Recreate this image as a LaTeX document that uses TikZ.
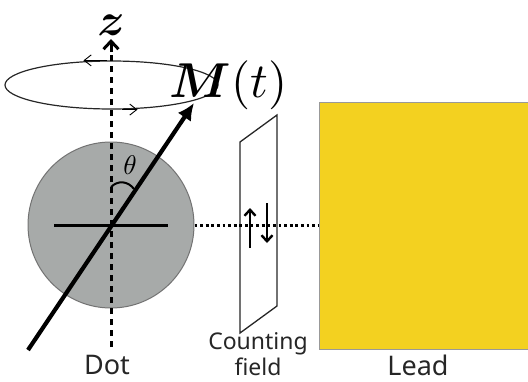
\documentclass[tikz,border=0pt]{standalone}
\usepackage{fontspec}
\usepackage{amsmath,bm}
\setsansfont{Noto Sans}
\usetikzlibrary{arrows.meta, positioning, shapes.geometric}
\definecolor{dotgray}{HTML}{A7AAA9}
\definecolor{leadyellow}{HTML}{F3D120}
\tikzset{label/.style={font=\sffamily\fontsize{27}{29}\selectfont,text=black!85,inner sep=0pt},cfield/.style={font=\sffamily\fontsize{23}{26}\selectfont,text=black!85,align=center,inner sep=0pt},thin line/.style={draw=black!85,line width=1.3pt},spin/.style={line width=2.4pt,-{Straight Barb[length=6pt,width=11pt]}},orbit/.style={-{Straight Barb[length=7pt,width=11pt]},line width=.9pt}}
\begin{document}
\begin{tikzpicture}[x=1pt,y=-1pt]
\useasboundingbox (0,0) rectangle (528,381);
\node[circle,draw=black!55,line width=1pt,fill=dotgray,minimum size=166pt,inner sep=0pt] (dot) at (111,225) {};
\node[rectangle,draw=black!40,line width=1pt,fill=leadyellow,minimum width=212pt,minimum height=247pt,inner sep=0pt,anchor=north west] (lead) at (319,102) {};
\node[ellipse,draw=black!85,line width=1.2pt,minimum width=213pt,minimum height=48pt,inner sep=0pt] (orbit) at (111.5,85) {};
\coordinate (zbase) at (111,347);
\coordinate (zmid) at (111,50);
\coordinate (ztop) at (111,39);
\coordinate (mbase) at (28,350);
\coordinate (mtip) at (194,103);
\coordinate (hl) at (54,225);
\coordinate (hr) at (168,225);
\coordinate (pa) at (240,142);
\coordinate (pb) at (277,115);
\coordinate (pc) at (277,306);
\coordinate (pd) at (240,333);
\coordinate (upa) at (250,248);
\coordinate (upb) at (250,208);
\coordinate (downa) at (267,203);
\coordinate (downb) at (267,243);
\draw[line width=3pt,dash pattern=on 6pt off 5pt] (zbase) -- (zmid);
\draw[line width=3pt,-{Straight Barb[length=8pt,width=15pt]}] (111,52) -- (ztop);
\draw[orbit] (orbit.north) ++(-5,0) -- ++(-23,0);
\draw[orbit] (orbit.south) ++(10,0) -- ++(16,0);
\draw[line width=3pt] (hl) -- (hr);
\draw[line width=2pt] (111,187) .. controls (118,180) and (128,181) .. (134,189);
\draw[line width=4.2pt,-{Latex[length=17pt,width=16pt]}] (mbase) -- (mtip);
\draw[thin line] (pa) -- (pb) -- (pc) -- (pd) -- cycle;
\draw[line width=3pt,dash pattern=on 2.8pt off 2.8pt] (dot.east) -- (lead.west |- dot);
\draw[spin] (upa) -- (upb);
\draw[spin] (downa) -- (downb);
\node[inner sep=0pt,scale=4.6] (zlabel) at (111,25) {$\bm{z}$};
\node[inner sep=0pt,scale=4.9,anchor=base west] (mlabel) at (169,97) {$\bm{M}(t)$};
\node[inner sep=0pt,scale=2.7] (theta) at (130,165) {$\theta$};
\node[label] (dotlabel) at (107,365) {Dot};
\node[cfield] (cflabel) at (258,354) {Counting\\field};
\node[label] (leadlabel) at (418,365) {Lead};
\end{tikzpicture}
\end{document}
